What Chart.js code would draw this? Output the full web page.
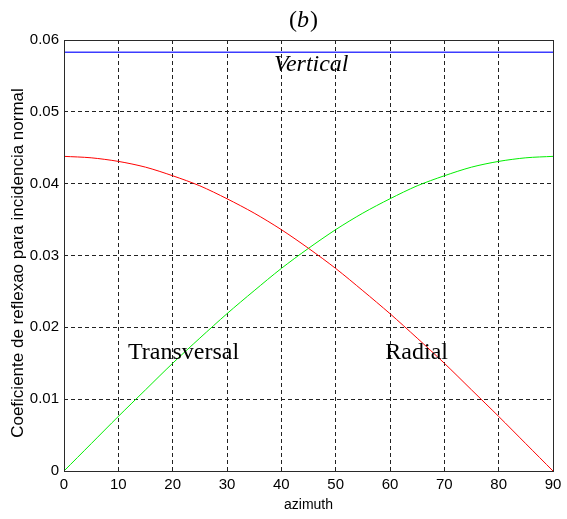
<!DOCTYPE html>
<html><head><meta charset="utf-8">
<script src="https://cdn.jsdelivr.net/npm/chart.js@4/dist/chart.umd.min.js"></script>
<style>html,body{margin:0;padding:0;background:#fff;}#wrap{width:567px;height:519px;}</style>
</head><body><div id="wrap"><canvas id="c" width="567" height="519"></canvas></div>
<script>
// azimuth (degrees)
const azimuth = [0,5,10,15,20,25,30,35,40,45,50,55,60,65,70,75,80,85,90];
// Radial (red)
const radial = [0.0438,0.0436,0.0431,0.0423,0.0411,0.0397,0.0379,0.0359,0.0336,0.0310,0.0282,0.0251,0.0219,0.0185,0.0150,0.0113,0.0076,0.0038,0.0000];
// Transversal (green)
const transversal = [0.0000,0.0038,0.0076,0.0113,0.0150,0.0185,0.0219,0.0251,0.0282,0.0310,0.0336,0.0359,0.0379,0.0397,0.0411,0.0423,0.0431,0.0436,0.0438];
// Vertical (blue)
const vertical = [0.0583,0.0583,0.0583,0.0583,0.0583,0.0583,0.0583,0.0583,0.0583,0.0583,0.0583,0.0583,0.0583,0.0583,0.0583,0.0583,0.0583,0.0583,0.0583];
const xTickLabels = ['0','10','20','30','40','50','60','70','80','90'];
const yTickLabels = ['0','0.01','0.02','0.03','0.04','0.05','0.06'];
const yTitle = 'Coeficiente de reflexao para incidencia normal';
const annotations = [
  {text:'Vertical', x:45.5, y:0.0565, italic:true},
  {text:'Transversal', x:22.0, y:0.0165, italic:false},
  {text:'Radial', x:64.9, y:0.0165, italic:false}
];

const sansFamily = '"Liberation Sans",Arial,sans-serif';
const tickFont = {family:sansFamily, size:15};
const toPts = arr => azimuth.map((a,i)=>({x:a,y:arr[i]}));

const framePlugin = {
  id:'frame',
  afterDatasetsDraw(chart){
    const {ctx, chartArea:a, scales} = chart;
    ctx.save();
    ctx.strokeStyle = '#2a2a2a';
    ctx.lineWidth = 1;
    ctx.strokeRect(Math.round(a.left)+0.5, Math.round(a.top)+0.5, Math.round(a.right-a.left), Math.round(a.bottom-a.top));
    // annotations
    ctx.fillStyle = '#000';
    ctx.textAlign = 'center';
    ctx.textBaseline = 'middle';
    annotations.forEach(n=>{
      ctx.font = (n.italic?'italic ':'') + '24px "Liberation Serif","Times New Roman",serif';
      ctx.fillText(n.text, scales.x.getPixelForValue(n.x), scales.y.getPixelForValue(n.y));
    });
    // y title
    ctx.save();
    ctx.translate(18, 263);
    ctx.rotate(-Math.PI/2);
    ctx.font = '17px ' + sansFamily;
    ctx.fillText(yTitle, 0, 0);
    ctx.restore();
    // title (b)
    const cx = 303, cy = 21;
    ctx.textAlign = 'left';
    ctx.font = '24px "Liberation Serif",serif';
    const wp = ctx.measureText('(').width, wq = ctx.measureText(')').width;
    ctx.font = 'italic 24px "Liberation Serif",serif';
    const wb = ctx.measureText('b').width;
    let x0 = cx - (wp+wb+wq)/2;
    ctx.font = '24px "Liberation Serif",serif';
    ctx.fillText('(', x0, cy);
    ctx.font = 'italic 24px "Liberation Serif",serif';
    ctx.fillText('b', x0+wp, cy);
    ctx.font = '24px "Liberation Serif",serif';
    ctx.fillText(')', x0+wp+wb+1, cy);
    ctx.restore();
  }
};

new Chart(document.getElementById('c'), {
  type:'line',
  data:{datasets:[
    {label:'Vertical', data:toPts(vertical), borderColor:'#3c3cff', borderWidth:1.5, pointRadius:0, tension:0},
    {label:'Radial', data:toPts(radial), borderColor:'#ff0000', borderWidth:1, pointRadius:0, tension:0.3},
    {label:'Transversal', data:toPts(transversal), borderColor:'#00ee00', borderWidth:1, pointRadius:0, tension:0.3}
  ]},
  options:{
    responsive:false, animation:false, devicePixelRatio:1,
    layout:{padding:{top:40,right:14,left:0,bottom:0}},
    plugins:{legend:{display:false}, tooltip:{enabled:false}},
    scales:{
      x:{type:'linear', min:0, max:90,
        afterFit(s){ s.height = 48; },
        ticks:{stepSize:10, color:'#000', font:tickFont, padding:5, maxRotation:0,
          callback:(v)=>{const i=Math.round(v/10); return xTickLabels[i];}},
        grid:{color:'#222', lineWidth:1, drawTicks:false, tickLength:0},
        border:{display:false, dash:[4,3]},
        title:{display:true, text:'azimuth', color:'#000', font:{family:sansFamily, size:14}, padding:{top:0,bottom:5}}
      },
      y:{type:'linear', min:0, max:0.06,
        afterFit(s){ s.width = 64; },
        ticks:{stepSize:0.01, color:'#000', font:tickFont, padding:5,
          callback:(v)=>{const i=Math.round(v*100); return yTickLabels[i];}},
        grid:{color:'#222', lineWidth:1, drawTicks:false, tickLength:0},
        border:{display:false, dash:[4,3]},
        title:{display:false}
      }
    }
  },
  plugins:[framePlugin]
});
</script></body></html>
